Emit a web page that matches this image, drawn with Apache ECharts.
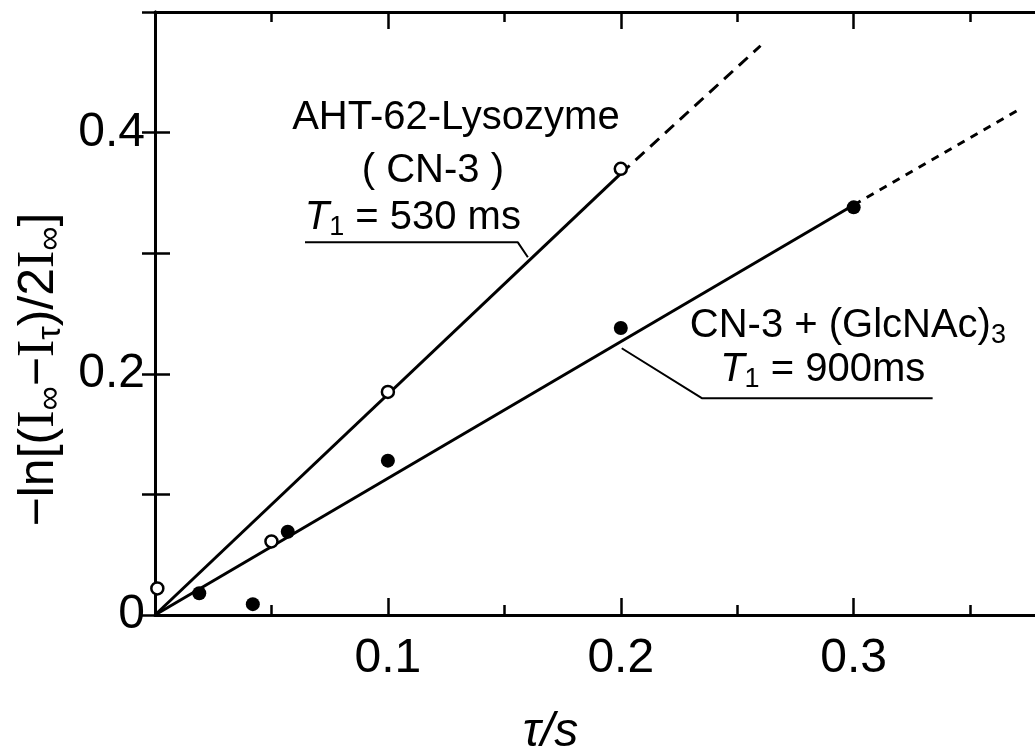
<!DOCTYPE html>
<html>
<head>
<meta charset="utf-8">
<script src="https://cdn.jsdelivr.net/npm/echarts@6/dist/echarts.min.js"></script>
<style>
  html, body { margin: 0; background: #fff; }
  #chart { width: 1035px; height: 748px; }
</style>
</head>
<body>
<div id="chart"></div>
<script>
const openX = [0.001, 0.05, 0.1, 0.2];
const openY = [0.022, 0.061, 0.185, 0.370];
const filledX = [0.019, 0.042, 0.057, 0.1, 0.2, 0.3];
const filledY = [0.018, 0.009, 0.069, 0.128, 0.238, 0.338];

// fitted lines, solid part and dashed extrapolation
const fitAX = [0, 0.2];
const fitAY = [0, 0.366];
const extAX = [0.2, 0.26];
const extAY = [0.366, 0.472];
const fitBX = [0, 0.3];
const fitBY = [0, 0.34];
const extBX = [0.3, 0.37];
const extBY = [0.34, 0.418];

const xTickLabels = ['0.1', '0.2', '0.3'];
const yTickLabels = ['0', '0.2', '0.4'];

// annotation texts and the leader lines under them (data units)
const annTexts = [
  'AHT-62-Lysozyme',
  '( CN-3 )',
  '{it|T}{sub|1} = 530 ms',
  'CN-3 + (GlcNAc){sub|3}',
  '{it|T}{sub|1} = 900ms'
];
const annX = [0.1292, 0.1193, 0.1107, 0.2975, 0.2867];
const annY = [0.4118, 0.3679, 0.3289, 0.2394, 0.2030];
const leaderAX = [0.0644, 0.1558, 0.1601];
const leaderAY = [0.309, 0.309, 0.2966];
const leaderBX = [0.3339, 0.2348, 0.2004];
const leaderBY = [0.1798, 0.1798, 0.2212];

const font = 'Liberation Sans';
const ink = '#000';
const zip = (xs, ys) => xs.map((x, i) => [x, ys[i]]);
const pick = labels => v => {
  const hit = labels.find(l => Math.abs(parseFloat(l) - v) < 1e-6);
  return hit === undefined ? '' : hit;
};

const subRich = {
  it: { fontStyle: 'italic', fontSize: 40, fontFamily: font, color: ink, lineHeight: 46 },
  sub: { fontSize: 27, fontFamily: font, color: ink, lineHeight: 20, verticalAlign: 'bottom' }
};

const chart = echarts.init(document.getElementById('chart'));

const axisLine = { show: true, lineStyle: { color: ink, width: 3 } };
const tick = len => ({ show: true, inside: true, length: len, lineStyle: { color: ink, width: 2.5 } });
const xRange = { type: 'value', min: 0, max: 0.38, splitLine: { show: false } };
const yRange = { type: 'value', min: 0, max: 0.5, interval: 0.1, splitLine: { show: false } };

chart.setOption({
  animation: false,
  backgroundColor: '#fff',
  // right frame edge sits just past the picture's edge, as in the scan
  grid: { left: 155, top: 12, width: 885, height: 603, containLabel: false, outerBoundsMode: 'none' },
  xAxis: [
    {
      ...xRange, position: 'bottom', interval: 0.1,
      axisLine, axisTick: tick(17),
      axisLabel: { margin: 20, fontSize: 48, color: ink, fontFamily: font, formatter: pick(xTickLabels) },
      name: 'τ/s', nameLocation: 'middle', nameGap: 94,
      nameTextStyle: { fontSize: 48, color: ink, fontFamily: font, fontStyle: 'italic', padding: [0, 94, 0, 0] }
    },
    { ...xRange, position: 'bottom', interval: 0.05, axisLine: { show: false }, axisTick: tick(10), axisLabel: { show: false } },
    { ...xRange, position: 'top', interval: 0.1, axisLine, axisTick: tick(17), axisLabel: { show: false } },
    { ...xRange, position: 'top', interval: 0.05, axisLine: { show: false }, axisTick: tick(10), axisLabel: { show: false } }
  ],
  yAxis: [
    {
      ...yRange, position: 'left',
      axisLine, axisTick: tick(15),
      axisLabel: { margin: 10, fontSize: 48, color: ink, fontFamily: font, formatter: pick(yTickLabels) },
      name: '−ln[({I|I}{sub|∞}−{I|I}{sub|τ})/2{I|I}{sub|∞}]',
      nameLocation: 'middle', nameGap: 86,
      nameTextStyle: {
        fontSize: 50, color: ink, fontFamily: font, lineHeight: 56, padding: [0, 112, 0, 0],
        rich: {
          I: { fontFamily: 'Liberation Serif', fontSize: 52, color: ink, lineHeight: 56 },
          sub: { fontSize: 34, fontFamily: font, color: ink, lineHeight: 26, verticalAlign: 'bottom' }
        }
      }
    },
    { ...yRange, position: 'right', axisLine, axisTick: tick(13), axisLabel: { show: false } }
  ],
  series: [
    { type: 'line', data: zip(fitAX, fitAY), symbol: 'none', lineStyle: { color: ink, width: 3 } },
    { type: 'line', data: zip(extAX, extAY), symbol: 'none', lineStyle: { color: ink, width: 3, type: [12, 8] } },
    { type: 'line', data: zip(fitBX, fitBY), symbol: 'none', lineStyle: { color: ink, width: 3 } },
    { type: 'line', data: zip(extBX, extBY), symbol: 'none', lineStyle: { color: ink, width: 3, type: [8, 7] } },
    { type: 'line', data: zip(leaderAX, leaderAY), symbol: 'none', lineStyle: { color: ink, width: 2 } },
    { type: 'line', data: zip(leaderBX, leaderBY), symbol: 'none', lineStyle: { color: ink, width: 2 } },
    {
      type: 'scatter', data: zip(openX, openY), symbol: 'circle', symbolSize: 12, z: 4,
      itemStyle: { color: '#fff', borderColor: ink, borderWidth: 2.5, opacity: 1 }
    },
    {
      type: 'scatter', data: zip(filledX, filledY), symbol: 'circle', symbolSize: 14, z: 4,
      itemStyle: { color: ink, opacity: 1 }
    },
    {
      type: 'scatter', symbolSize: 0, silent: true, z: 5,
      itemStyle: { opacity: 1 },
      data: annX.map((x, i) => ({ value: [x, annY[i]], label: { formatter: annTexts[i] } })),
      label: {
        show: true, position: 'inside', fontSize: 40, color: ink, fontFamily: font, lineHeight: 46,
        rich: subRich
      }
    }
  ]
});
</script>
</body>
</html>
